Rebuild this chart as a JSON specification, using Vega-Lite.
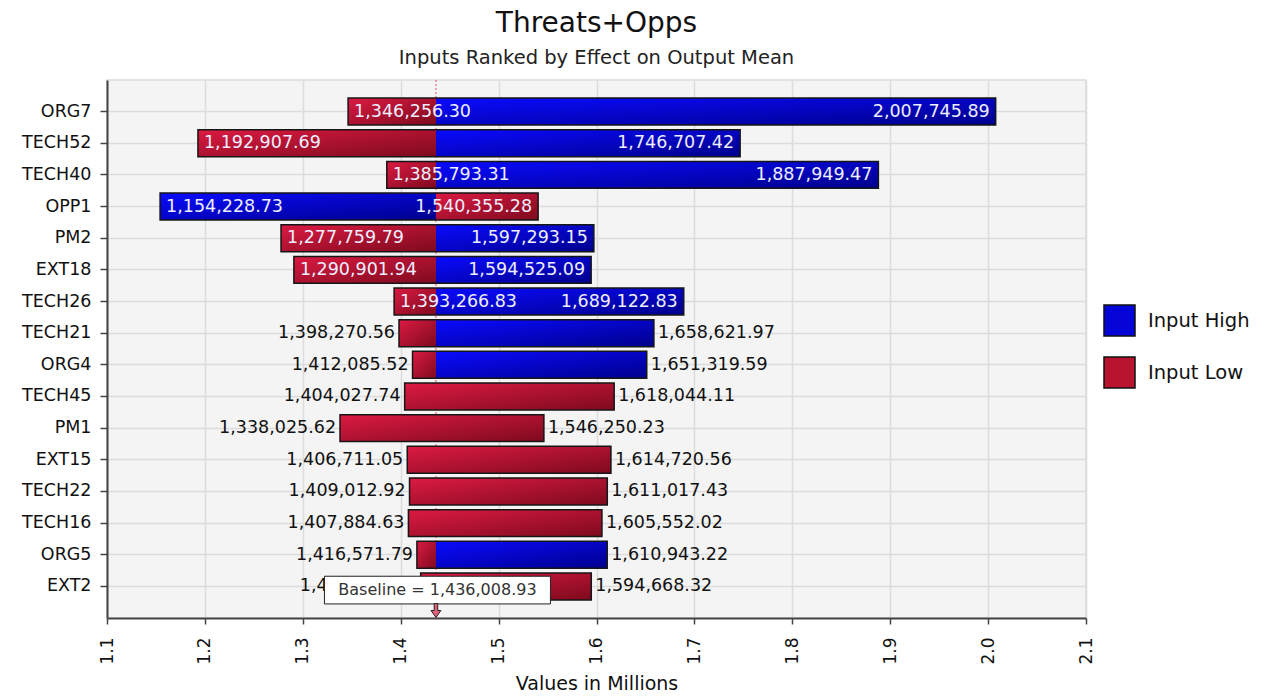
{
  "$schema": "https://vega.github.io/schema/vega-lite/v6.json",
  "width": 979,
  "height": 538,
  "autosize": "none",
  "padding": {"left": 107, "top": 80, "right": 193, "bottom": 81},
  "background": "white",
  "title": {
    "text": "Threats+Opps",
    "subtitle": "Inputs Ranked by Effect on Output Mean",
    "font": "DejaVu Sans",
    "subtitleFont": "DejaVu Sans",
    "fontSize": 28,
    "subtitleFontSize": 19.5,
    "fontWeight": "normal",
    "color": "#111111",
    "subtitleColor": "#222222",
    "anchor": "middle",
    "offset": 12,
    "subtitlePadding": 11
  },
  "config": {
    "font": "DejaVu Sans",
    "view": {"fill": "#f4f4f4", "stroke": "#dcdcdc", "strokeWidth": 1.5}
  },
  "datasets": {
    "swings": [
      {"name": "ORG7", "rank": 1, "input": "Input Low", "value": 1346256.30},
      {"name": "ORG7", "rank": 1, "input": "Input High", "value": 2007745.89},
      {"name": "TECH52", "rank": 2, "input": "Input Low", "value": 1192907.69},
      {"name": "TECH52", "rank": 2, "input": "Input High", "value": 1746707.42},
      {"name": "TECH40", "rank": 3, "input": "Input Low", "value": 1385793.31},
      {"name": "TECH40", "rank": 3, "input": "Input High", "value": 1887949.47},
      {"name": "OPP1", "rank": 4, "input": "Input High", "value": 1154228.73},
      {"name": "OPP1", "rank": 4, "input": "Input Low", "value": 1540355.28},
      {"name": "PM2", "rank": 5, "input": "Input Low", "value": 1277759.79},
      {"name": "PM2", "rank": 5, "input": "Input High", "value": 1597293.15},
      {"name": "EXT18", "rank": 6, "input": "Input Low", "value": 1290901.94},
      {"name": "EXT18", "rank": 6, "input": "Input High", "value": 1594525.09},
      {"name": "TECH26", "rank": 7, "input": "Input Low", "value": 1393266.83},
      {"name": "TECH26", "rank": 7, "input": "Input High", "value": 1689122.83},
      {"name": "TECH21", "rank": 8, "input": "Input Low", "value": 1398270.56},
      {"name": "TECH21", "rank": 8, "input": "Input High", "value": 1658621.97},
      {"name": "ORG4", "rank": 9, "input": "Input Low", "value": 1412085.52},
      {"name": "ORG4", "rank": 9, "input": "Input High", "value": 1651319.59},
      {"name": "TECH45", "rank": 10, "input": "Input Low", "value": 1404027.74},
      {"name": "TECH45", "rank": 10, "input": "Input Low", "value": 1618044.11},
      {"name": "PM1", "rank": 11, "input": "Input Low", "value": 1338025.62},
      {"name": "PM1", "rank": 11, "input": "Input Low", "value": 1546250.23},
      {"name": "EXT15", "rank": 12, "input": "Input Low", "value": 1406711.05},
      {"name": "EXT15", "rank": 12, "input": "Input Low", "value": 1614720.56},
      {"name": "TECH22", "rank": 13, "input": "Input Low", "value": 1409012.92},
      {"name": "TECH22", "rank": 13, "input": "Input Low", "value": 1611017.43},
      {"name": "TECH16", "rank": 14, "input": "Input Low", "value": 1407884.63},
      {"name": "TECH16", "rank": 14, "input": "Input Low", "value": 1605552.02},
      {"name": "ORG5", "rank": 15, "input": "Input Low", "value": 1416571.79},
      {"name": "ORG5", "rank": 15, "input": "Input High", "value": 1610943.22},
      {"name": "EXT2", "rank": 16, "input": "Input Low", "value": 1420391.55},
      {"name": "EXT2", "rank": 16, "input": "Input Low", "value": 1594668.32}
    ],
    "baseline": [
      {"baseline": 1436008.93, "name": "EXT2"}
    ]
  },
  "data": {"name": "swings"},
  "layer": [
    {
      "data": {"name": "baseline"},
      "mark": {"type": "rule", "color": "#e0506e", "strokeWidth": 1, "strokeDash": [2, 2]},
      "encoding": {
        "x": {"field": "baseline", "type": "quantitative", "title": "Values in Millions"}
      }
    },
    {
      "transform": [
        {"aggregate": [{"op": "min", "field": "value", "as": "lo"}, {"op": "max", "field": "value", "as": "hi"}], "groupby": ["name", "input"]},
        {"calculate": "min(datum.lo, 1436008.93)", "as": "start"},
        {"calculate": "max(datum.hi, 1436008.93)", "as": "end"}
      ],
      "mark": {"type": "bar", "opacity": 1},
      "encoding": {
        "y": {
          "field": "name",
          "type": "nominal",
          "sort": ["ORG7", "TECH52", "TECH40", "OPP1", "PM2", "EXT18", "TECH26", "TECH21", "ORG4", "TECH45", "PM1", "EXT15", "TECH22", "TECH16", "ORG5", "EXT2"],
          "scale": {"paddingInner": 0.15, "paddingOuter": 0.57},
          "title": null,
          "axis": {
            "grid": true,
            "bandPosition": 0.5,
            "labelFontSize": 17.5,
            "labelColor": "#111111",
            "labelPadding": 9,
            "tickSize": 7,
            "tickColor": "#444444",
            "tickWidth": 1.5,
            "domainColor": "#444444",
            "domainWidth": 2,
            "gridColor": "#dcdcdc",
            "gridWidth": 1.5
          }
        },
        "x": {
          "field": "start",
          "type": "quantitative",
          "title": "Values in Millions",
          "scale": {"domain": [1100000, 2100000], "nice": false, "zero": false},
          "axis": {
            "values": [1100000, 1200000, 1300000, 1400000, 1500000, 1600000, 1700000, 1800000, 1900000, 2000000, 2100000],
            "labelExpr": "format(datum.value / 1000000, '.1f')",
            "labelAngle": 270,
            "labelFontSize": 17,
            "labelColor": "#111111",
            "labelPadding": 13,
            "tickSize": 6,
            "tickColor": "#444444",
            "tickWidth": 1.5,
            "domainColor": "#444444",
            "domainWidth": 2,
            "gridColor": "#dcdcdc",
            "gridWidth": 1.5,
            "titleFontSize": 19,
            "titleFontWeight": "normal",
            "titleColor": "#111111",
            "titlePadding": 10
          }
        },
        "x2": {"field": "end"},
        "color": {
          "field": "input",
          "type": "nominal",
          "scale": {"domain": ["Input High", "Input Low"], "range": ["#0505d8", "#b8142f"]},
          "legend": {
            "orient": "none",
            "legendX": 996,
            "legendY": 224,
            "title": null,
            "padding": 0,
            "symbolType": "square",
            "symbolSize": 961,
            "symbolStrokeColor": "#111111",
            "symbolStrokeWidth": 1.5,
            "symbolOpacity": 1,
            "labelFontSize": 19.5,
            "labelColor": "#111111",
            "labelOffset": 12,
            "rowPadding": 15
          }
        }
      }
    },
    {
      "transform": [
        {"filter": "datum.input === 'Input High'"},
        {"aggregate": [{"op": "min", "field": "value", "as": "lo"}, {"op": "max", "field": "value", "as": "hi"}], "groupby": ["name"]},
        {"calculate": "min(datum.lo, 1436008.93)", "as": "start"},
        {"calculate": "max(datum.hi, 1436008.93)", "as": "end"}
      ],
      "mark": {
        "type": "bar",
        "opacity": 1,
        "fill": {"gradient": "linear", "x1": 0, "y1": 0, "x2": 1, "y2": 1, "stops": [{"offset": 0, "color": "#0a0aff"}, {"offset": 1, "color": "#00008c"}]}
      },
      "encoding": {
        "y": {"field": "name", "type": "nominal", "title": null, "sort": ["ORG7", "TECH52", "TECH40", "OPP1", "PM2", "EXT18", "TECH26", "TECH21", "ORG4", "TECH45", "PM1", "EXT15", "TECH22", "TECH16", "ORG5", "EXT2"]},
        "x": {"field": "start", "type": "quantitative", "title": "Values in Millions"},
        "x2": {"field": "end"}
      }
    },
    {
      "transform": [
        {"filter": "datum.input === 'Input Low'"},
        {"aggregate": [{"op": "min", "field": "value", "as": "lo"}, {"op": "max", "field": "value", "as": "hi"}], "groupby": ["name"]},
        {"calculate": "min(datum.lo, 1436008.93)", "as": "start"},
        {"calculate": "max(datum.hi, 1436008.93)", "as": "end"}
      ],
      "mark": {
        "type": "bar",
        "opacity": 1,
        "fill": {"gradient": "linear", "x1": 0, "y1": 0, "x2": 1, "y2": 1, "stops": [{"offset": 0, "color": "#dc1a42"}, {"offset": 1, "color": "#7e0a1e"}]}
      },
      "encoding": {
        "y": {"field": "name", "type": "nominal", "title": null, "sort": ["ORG7", "TECH52", "TECH40", "OPP1", "PM2", "EXT18", "TECH26", "TECH21", "ORG4", "TECH45", "PM1", "EXT15", "TECH22", "TECH16", "ORG5", "EXT2"]},
        "x": {"field": "start", "type": "quantitative", "title": "Values in Millions"},
        "x2": {"field": "end"}
      }
    },
    {
      "transform": [
        {"aggregate": [{"op": "min", "field": "value", "as": "lo"}, {"op": "max", "field": "value", "as": "hi"}], "groupby": ["name"]}
      ],
      "mark": {"type": "bar", "fillOpacity": 0, "stroke": "#161616", "strokeWidth": 1.5},
      "encoding": {
        "y": {"field": "name", "type": "nominal", "title": null, "sort": ["ORG7", "TECH52", "TECH40", "OPP1", "PM2", "EXT18", "TECH26", "TECH21", "ORG4", "TECH45", "PM1", "EXT15", "TECH22", "TECH16", "ORG5", "EXT2"]},
        "x": {"field": "lo", "type": "quantitative", "title": "Values in Millions"},
        "x2": {"field": "hi"}
      }
    },
    {
      "transform": [{"filter": "datum.rank <= 7 && datum.value < 1436008.93"}],
      "mark": {"type": "text", "align": "left", "baseline": "middle", "dx": 6, "fontSize": 17.5, "color": "#eeeeff"},
      "encoding": {
        "y": {"field": "name", "type": "nominal", "title": null, "sort": ["ORG7", "TECH52", "TECH40", "OPP1", "PM2", "EXT18", "TECH26", "TECH21", "ORG4", "TECH45", "PM1", "EXT15", "TECH22", "TECH16", "ORG5", "EXT2"]},
        "x": {"field": "value", "type": "quantitative", "title": "Values in Millions"},
        "text": {"field": "value", "type": "quantitative", "format": ",.2f"}
      }
    },
    {
      "transform": [{"filter": "datum.rank <= 7 && datum.value > 1436008.93"}],
      "mark": {"type": "text", "align": "right", "baseline": "middle", "dx": -6, "fontSize": 17.5, "color": "#eeeeff"},
      "encoding": {
        "y": {"field": "name", "type": "nominal", "title": null, "sort": ["ORG7", "TECH52", "TECH40", "OPP1", "PM2", "EXT18", "TECH26", "TECH21", "ORG4", "TECH45", "PM1", "EXT15", "TECH22", "TECH16", "ORG5", "EXT2"]},
        "x": {"field": "value", "type": "quantitative", "title": "Values in Millions"},
        "text": {"field": "value", "type": "quantitative", "format": ",.2f"}
      }
    },
    {
      "transform": [{"filter": "datum.rank > 7 && datum.value < 1436008.93"}],
      "mark": {"type": "text", "align": "right", "baseline": "middle", "dx": -4, "fontSize": 17.5, "color": "#111111"},
      "encoding": {
        "y": {"field": "name", "type": "nominal", "title": null, "sort": ["ORG7", "TECH52", "TECH40", "OPP1", "PM2", "EXT18", "TECH26", "TECH21", "ORG4", "TECH45", "PM1", "EXT15", "TECH22", "TECH16", "ORG5", "EXT2"]},
        "x": {"field": "value", "type": "quantitative", "title": "Values in Millions"},
        "text": {"field": "value", "type": "quantitative", "format": ",.2f"}
      }
    },
    {
      "transform": [{"filter": "datum.rank > 7 && datum.value > 1436008.93"}],
      "mark": {"type": "text", "align": "left", "baseline": "middle", "dx": 4, "fontSize": 17.5, "color": "#111111"},
      "encoding": {
        "y": {"field": "name", "type": "nominal", "title": null, "sort": ["ORG7", "TECH52", "TECH40", "OPP1", "PM2", "EXT18", "TECH26", "TECH21", "ORG4", "TECH45", "PM1", "EXT15", "TECH22", "TECH16", "ORG5", "EXT2"]},
        "x": {"field": "value", "type": "quantitative", "title": "Values in Millions"},
        "text": {"field": "value", "type": "quantitative", "format": ",.2f"}
      }
    },
    {
      "data": {"name": "baseline"},
      "mark": {"type": "point", "shape": "M -1 -0.135 L 1 -0.135 L 1 0.11 L -1 0.11 Z", "size": 51076, "filled": true, "fill": "#ffffff", "stroke": "#222222", "strokeWidth": 1, "opacity": 1, "xOffset": 1.5, "yOffset": 5},
      "encoding": {
        "y": {"field": "name", "type": "nominal", "title": null, "sort": ["ORG7", "TECH52", "TECH40", "OPP1", "PM2", "EXT18", "TECH26", "TECH21", "ORG4", "TECH45", "PM1", "EXT15", "TECH22", "TECH16", "ORG5", "EXT2"]},
        "x": {"field": "baseline", "type": "quantitative", "title": "Values in Millions"}
      }
    },
    {
      "data": {"name": "baseline"},
      "transform": [{"calculate": "'Baseline = ' + format(datum.baseline, ',.2f')", "as": "label"}],
      "mark": {"type": "text", "align": "center", "baseline": "middle", "fontSize": 16, "color": "#333333", "dx": 1.5, "dy": 4},
      "encoding": {
        "y": {"field": "name", "type": "nominal", "title": null, "sort": ["ORG7", "TECH52", "TECH40", "OPP1", "PM2", "EXT18", "TECH26", "TECH21", "ORG4", "TECH45", "PM1", "EXT15", "TECH22", "TECH16", "ORG5", "EXT2"]},
        "x": {"field": "baseline", "type": "quantitative", "title": "Values in Millions"},
        "text": {"field": "label"}
      }
    },
    {
      "data": {"name": "baseline"},
      "mark": {"type": "point", "shape": "M -0.25 -1 L 0.25 -1 L 0.25 0 L 0.7 0 L 0 1 L -0.7 0 L -0.25 0 Z", "size": 196, "filled": true, "fill": "#e0607a", "stroke": "#222222", "strokeWidth": 1, "opacity": 1, "yOffset": 24},
      "encoding": {
        "y": {"field": "name", "type": "nominal", "title": null, "sort": ["ORG7", "TECH52", "TECH40", "OPP1", "PM2", "EXT18", "TECH26", "TECH21", "ORG4", "TECH45", "PM1", "EXT15", "TECH22", "TECH16", "ORG5", "EXT2"]},
        "x": {"field": "baseline", "type": "quantitative", "title": "Values in Millions"}
      }
    }
  ]
}
